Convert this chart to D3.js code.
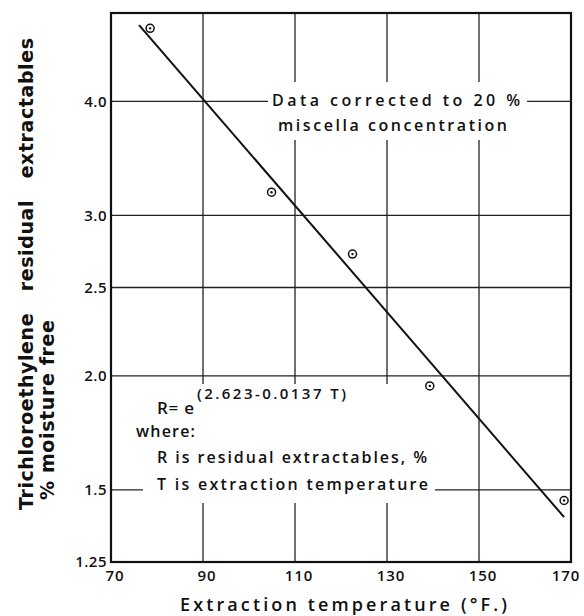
<!DOCTYPE html>
<html>
<head>
<meta charset="utf-8">
<script src="https://cdn.jsdelivr.net/npm/d3@7"></script>
<style>
  html, body { margin: 0; padding: 0; background: #fff; }
  svg { display: block; }
  text { font-family: "Open Sans", "DejaVu Sans", sans-serif; font-weight: 600; fill: #111; }
  text.ytitle { font-family: "DejaVu Sans", sans-serif; font-weight: bold; }
</style>
</head>
<body>
<svg id="chart" width="584" height="616"></svg>
<script>
// ---- data ----
const temperatures = [78.5, 104.9, 122.5, 139.3, 168.5];   // °F
const residuals    = [4.81, 3.18, 2.72, 1.95, 1.46];        // %
const fitTemps     = [76.1, 168.5];                         // fitted line ends
const fitValues    = [4.85, 1.40];
const xTicks = [70, 90, 110, 130, 150, 170];
const yTicks = [1.25, 1.5, 2.0, 2.5, 3.0, 4.0];
const yTickLabels = ["1.25", "1.5", "2.0", "2.5", "3.0", "4.0"];
const yGrid = [1.5, 2.0, 2.5, 3.0, 4.0];
const xGrid = [90, 110, 130, 150];
const noteLines = ["Data corrected to 20 %", "miscella concentration"];
const formulaBase = "R= e";
const formulaExp = "(2.623-0.0137 T)";
const whereLines = ["where:", "R is residual extractables, %", "T is extraction temperature"];
const xTitle = "Extraction temperature (°F.)";
const yTitle = ["Trichloroethylene   residual   extractables", "% moisture free"];

// ---- layout ----
const L = 111, R = 571, T = 13, B = 562;
const svg = d3.select("#chart");
const x = d3.scaleLinear().domain([70, 170]).range([L, R]);
const y = d3.scaleLog().domain([1.25, 5]).range([B, T]);

// grid
const g = svg.append("g");
g.selectAll(".hg").data(yGrid).join("line")
  .attr("x1", L).attr("x2", R)
  .attr("y1", d => y(d)).attr("y2", d => y(d))
  .attr("stroke", "#222").attr("stroke-width", 1.3);
g.selectAll(".vg").data(xGrid).join("line")
  .attr("x1", d => x(d)).attr("x2", d => x(d))
  .attr("y1", T).attr("y2", B)
  .attr("stroke", "#222").attr("stroke-width", 1.3);

// white boxes behind annotations (gaps in grid)
svg.append("rect").attr("x", 268).attr("y", 82).attr("width", 259).attr("height", 58).attr("fill", "#fff");
svg.append("rect").attr("x", 143).attr("y", 384).attr("width", 292).attr("height", 119).attr("fill", "#fff");

// annotation: data corrected
svg.append("text").attr("x", 272).attr("y", 106).attr("font-size", 16)
  .attr("textLength", 248).attr("lengthAdjust", "spacing").text(noteLines[0]);
svg.append("text").attr("x", 278).attr("y", 131).attr("font-size", 16)
  .attr("textLength", 229).attr("lengthAdjust", "spacing").text(noteLines[1]);

// formula
svg.append("text").attr("x", 157).attr("y", 414).attr("font-size", 17)
  .attr("textLength", 37).attr("lengthAdjust", "spacing").text(formulaBase);
svg.append("text").attr("x", 197).attr("y", 399).attr("font-size", 15)
  .attr("textLength", 149).attr("lengthAdjust", "spacing").text(formulaExp);
svg.append("text").attr("x", 136).attr("y", 437).attr("font-size", 16)
  .attr("textLength", 59).attr("lengthAdjust", "spacing").text(whereLines[0]);
svg.append("text").attr("x", 157).attr("y", 463).attr("font-size", 16)
  .attr("textLength", 270).attr("lengthAdjust", "spacing").text(whereLines[1]);
svg.append("text").attr("x", 157).attr("y", 490).attr("font-size", 16)
  .attr("textLength", 271).attr("lengthAdjust", "spacing").text(whereLines[2]);

// fitted line
const fitData = fitTemps.map((t, i) => ({ t, r: fitValues[i] }));
svg.append("path").datum(fitData)
  .attr("d", d3.line().x(d => x(d.t)).y(d => y(d.r)))
  .attr("fill", "none").attr("stroke", "#111").attr("stroke-width", 2);

// points
const pts = temperatures.map((t, i) => ({ t, r: residuals[i] }));
const pg = svg.selectAll(".pt").data(pts).join("g")
  .attr("transform", d => `translate(${x(d.t)},${y(d.r)})`);
pg.append("circle").attr("r", 4).attr("fill", "#fff").attr("stroke", "#111").attr("stroke-width", 1.5);
pg.append("circle").attr("r", 1.2).attr("fill", "#111");

// frame
svg.append("rect").attr("x", L).attr("y", T).attr("width", R - L).attr("height", B - T)
  .attr("fill", "none").attr("stroke", "#111").attr("stroke-width", 2.2);

// y tick labels
svg.selectAll(".yl").data(yTicks).join("text")
  .attr("x", 107).attr("y", d => y(d)).attr("dy", "0.36em")
  .attr("text-anchor", "end").attr("font-size", 15).attr("letter-spacing", 0.5)
  .text((d, i) => yTickLabels[i]);

// x tick labels
svg.selectAll(".xl").data(xTicks).join("text")
  .attr("x", d => Math.min(x(d) + 4, 566)).attr("y", 581)
  .attr("text-anchor", "middle").attr("font-size", 15).attr("letter-spacing", 1)
  .text(d => d);

// x title
svg.append("text").attr("x", 180).attr("y", 611).attr("font-size", 18)
  .attr("textLength", 327).attr("lengthAdjust", "spacing").text(xTitle);

// y title
svg.append("text").attr("class", "ytitle").attr("transform", "translate(33,510) rotate(-90)")
  .attr("font-size", 19)
  .attr("textLength", 472).attr("lengthAdjust", "spacing")
  .attr("xml:space", "preserve").style("white-space", "pre").text(yTitle[0]);
svg.append("text").attr("class", "ytitle").attr("transform", "translate(54,500) rotate(-90)")
  .attr("font-size", 19)
  .attr("textLength", 180).attr("lengthAdjust", "spacing")
  .text(yTitle[1]);
</script>
</body>
</html>
